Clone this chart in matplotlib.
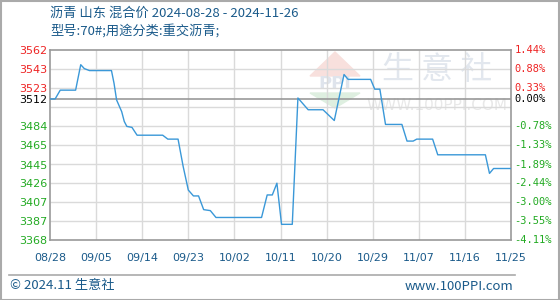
import matplotlib
matplotlib.use("Agg")
import matplotlib.pyplot as plt
from matplotlib.patches import Polygon, Rectangle

plt.rcParams['font.family'] = ['Noto Sans CJK SC', 'DejaVu Sans']

# data (x = days from 08/28)
days = [0, 1, 2, 5, 6, 6.7, 7.7, 12, 12.5, 13, 14, 14.5, 15, 16, 17, 22, 23, 25,
        26, 27, 28, 29, 30, 31.3, 32.4, 41.3, 42.4, 43.4, 44.3, 45.2, 47.3, 48.4,
        50.4, 53.3, 55.5, 57.4, 58.2, 62.6, 63.4, 64.4, 65.5, 68.7, 69.7, 70.9,
        71.6, 74.7, 75.7, 85, 85.8, 86.6, 90]
prices = [3512, 3512, 3521, 3521, 3547, 3543, 3541, 3541, 3528, 3511, 3499, 3489,
          3484, 3483, 3475, 3475, 3471, 3471, 3443, 3419, 3413, 3413, 3399, 3398,
          3391, 3391, 3414, 3414, 3426, 3384, 3384, 3513, 3501, 3501, 3490, 3537,
          3532, 3532, 3522, 3522, 3486, 3486, 3469, 3469, 3471, 3471, 3455, 3455,
          3436, 3441, 3441]

base = 3512
ymin, ymax = 3368, 3562
yticks = [3562, 3543, 3523, 3512, 3484, 3465, 3445, 3426, 3407, 3387, 3368]
pct_labels = ['1.44%', '0.88%', '0.33%', '0.00%', '-0.78%', '-1.33%', '-1.89%',
              '-2.44%', '-3.00%', '-3.55%', '-4.11%']
xtick_pos = [0, 9, 18, 27, 36, 45, 54, 63, 72, 81, 90]
xtick_labels = ['08/28', '09/05', '09/14', '09/23', '10/02', '10/11', '10/20',
                '10/29', '11/07', '11/16', '11/25']

title1 = '沥青 山东 混合价 2024-08-28 - 2024-11-26'
title2 = '型号:70#;用途分类:重交沥青;'

W, H = 560, 300
fig = plt.figure(figsize=(W / 100, H / 100), dpi=100)
ax = fig.add_axes([50 / W, 1 - 240 / H, 461 / W, 190 / H])
ft = fig.transFigure

# watermark (inside the axes, above its white background)
ax.text(437 / W, 1 - 70 / H, '生 意 社', fontsize=23, color='#e2e7ee',
        ha='center', va='center', transform=ft, zorder=0.5)
ax.text(437 / W, 1 - 106 / H, 'WWW.100PPI.COM', fontsize=11, color='#e8e8e8',
        ha='center', va='center', family='DejaVu Sans', transform=ft, zorder=0.5)
ax.add_patch(Polygon([(310 / W, 1 - 76 / H), (335 / W, 1 - 52 / H), (360 / W, 1 - 76 / H)],
                     closed=True, color='#f8e0dd', transform=ft, zorder=0.5))
ax.add_patch(Polygon([(310 / W, 1 - 93 / H), (360 / W, 1 - 93 / H), (335 / W, 1 - 108 / H)],
                     closed=True, color='#deefe0', transform=ft, zorder=0.5))
ax.text(335 / W, 1 - 84 / H, 'PPI', fontsize=13, color='#dfe4ec', ha='center',
        va='center', fontweight='bold', family='DejaVu Sans', transform=ft, zorder=0.5)

ax.set_xlim(0, 90)
ax.set_ylim(ymin, ymax)

# grid: 10 equal steps on y, tick positions on x
grid_vals = [ymin + i * (ymax - ymin) / 10 for i in range(1, 10)]
ax.hlines(grid_vals, 0, 90, colors='#dadada', lw=1.0, zorder=1.2)
ax.vlines(xtick_pos[1:-1], ymin, ymax, colors='#dadada', lw=1.0, zorder=1.2)
ax.axhline(base, color='#999999', lw=1.2, zorder=2.2)

ax.plot(days, prices, color='#3a98d8', lw=1.0, zorder=3)

for s in ax.spines.values():
    s.set_color('#999999')
    s.set_linewidth(1.2)


def label_color(v):
    if v > base:
        return '#ee2222'
    if v == base:
        return '#000000'
    return '#22aa22'


ax.set_xticks(xtick_pos)
ax.set_xticklabels(xtick_labels, fontsize=8, color='#1a5a8a', family='DejaVu Sans')
ax.tick_params(axis='x', length=0, pad=9)

ax.set_yticks(yticks)
ax.set_yticklabels([str(v) for v in yticks], fontsize=8, family='DejaVu Sans')
for lab, v in zip(ax.get_yticklabels(), yticks):
    lab.set_color(label_color(v))
    lab.set_horizontalalignment('left')
ax.tick_params(axis='y', length=0, pad=22)

# right-hand percentage labels, placed on the y scale
ytr = ax.get_yaxis_transform()
for v, p in zip(yticks, pct_labels):
    ax.text(1.008, v, p, transform=ytr, fontsize=7.5, family='DejaVu Sans Mono',
            color=label_color(v), ha='left', va='center', clip_on=False)

blue = '#1a5a8a'
fig.text(50 / W, 1 - 13 / H, title1, fontsize=9.5, color=blue, ha='left', va='center')
fig.text(50 / W, 1 - 31 / H, title2, fontsize=9.5, color=blue, ha='left', va='center')
fig.text(10 / W, 1 - 286 / H, '© 2024.11 生意社', fontsize=9.5, color=blue, ha='left', va='center')
fig.text(513 / W, 1 - 286 / H, 'www.100PPI.com', fontsize=9.5, color=blue, ha='right', va='center')

fig.add_artist(plt.Line2D([9 / W, 515 / W], [1 - 275 / H, 1 - 275 / H], color='#aaaaaa',
                          lw=1.2, transform=ft))
fig.add_artist(Rectangle((0.5 / W, 0.5 / H), 1 - 1.5 / W, 1 - 1.5 / H, fill=False,
                         edgecolor='#aaaaaa', lw=1.5, transform=ft))

fig.savefig('out.png', dpi=100)
